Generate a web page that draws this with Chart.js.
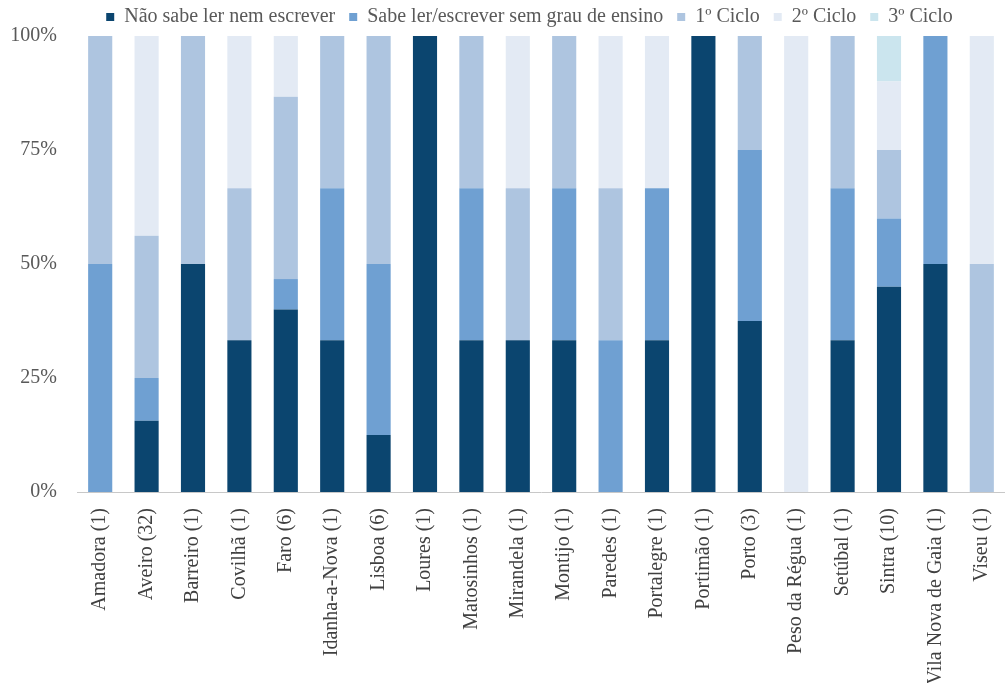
<!DOCTYPE html>
<html>
<head>
<meta charset="utf-8">
<script src="https://cdn.jsdelivr.net/npm/chart.js@4/dist/chart.umd.min.js"></script>
<style>
  html, body { margin: 0; padding: 0; background: #fff; overflow: hidden; }
  #wrap { width: 1005px; height: 683px; }
</style>
</head>
<body>
<div id="wrap"><canvas id="chart"></canvas></div>
<script>
// categories (municipality + count)
const categories = [
  'Amadora (1)', 'Aveiro (32)', 'Barreiro (1)', 'Covilhã (1)', 'Faro (6)',
  'Idanha-a-Nova (1)', 'Lisboa (6)', 'Loures (1)', 'Matosinhos (1)', 'Mirandela (1)',
  'Montijo (1)', 'Paredes (1)', 'Portalegre (1)', 'Portimão (1)', 'Porto (3)',
  'Peso da Régua (1)', 'Setúbal (1)', 'Sintra (10)', 'Vila Nova de Gaia (1)', 'Viseu (1)'
];

// series values (% of each bar)
const naoSabe = [0, 15.6, 50, 33.3, 40, 33.3, 12.5, 100, 33.3, 33.3, 33.3, 0, 33.3, 100, 37.5, 0, 33.3, 45, 50, 0];
const sabeLer = [50, 9.4, 0, 0, 6.7, 33.3, 37.5, 0, 33.3, 0, 33.3, 33.3, 33.3, 0, 37.5, 0, 33.3, 15, 50, 0];
const ciclo1  = [50, 31.2, 50, 33.3, 40, 33.4, 50, 0, 33.4, 33.3, 33.4, 33.3, 0, 0, 25, 0, 33.4, 15, 0, 50];
const ciclo2  = [0, 43.8, 0, 33.4, 13.3, 0, 0, 0, 0, 33.4, 0, 33.4, 33.4, 0, 0, 100, 0, 15, 0, 50];
const ciclo3  = [0, 0, 0, 0, 0, 0, 0, 0, 0, 0, 0, 0, 0, 0, 0, 0, 0, 10, 0, 0];

const seriesNames = ['Não sabe ler nem escrever', 'Sabe ler/escrever sem grau de ensino', '1º Ciclo', '2º Ciclo', '3º Ciclo'];
const yTicks = [0, 25, 50, 75, 100];

const colors = ['#0b456f', '#6fa0d2', '#aec5e0', '#e3eaf4', '#cbe5ee'];
const serif = "'Liberation Serif', 'Times New Roman', serif";

// fixed legend height, and nudge it a bit to the right like the original
const legendPlugin = {
  id: 'legendTweak',
  beforeInit(chart) {
    const origFit = chart.legend.fit;
    chart.legend.fit = function () {
      origFit.bind(chart.legend)();
      this.height = 43;
    };
  },
  afterLayout(chart) {
    chart.legend.left += 25;
    chart.legend.right += 25;
  }
};

const allSeries = [naoSabe, sabeLer, ciclo1, ciclo2, ciclo3];

new Chart(document.getElementById('chart'), {
  type: 'bar',
  data: {
    labels: categories,
    datasets: allSeries.map((vals, i) => ({
      label: seriesNames[i],
      data: vals,
      backgroundColor: colors[i],
      borderWidth: 0,
      barPercentage: 0.52,
      categoryPercentage: 1
    }))
  },
  plugins: [legendPlugin],
  options: {
    responsive: true,
    maintainAspectRatio: false,
    animation: false,
    layout: { padding: { top: -7, left: 0, right: -4, bottom: 0 } },
    plugins: {
      tooltip: { enabled: false },
      legend: {
        position: 'top',
        labels: {
          boxWidth: 8,
          boxHeight: 8,
          padding: 14,
          color: '#595959',
          font: { family: serif, size: 20 }
        }
      }
    },
    scales: {
      x: {
        stacked: true,
        grid: { display: false, drawTicks: false },
        border: { display: true, color: '#c8c8c8', width: 1 },
        ticks: {
          autoSkip: false,
          minRotation: 90,
          maxRotation: 90,
          padding: 16,
          color: '#404040',
          font: { family: serif, size: 20 }
        },
        afterFit(scale) {
          scale.height = 191;
          scale.paddingLeft = 0;
          scale.paddingRight = 0;
        }
      },
      y: {
        stacked: true,
        min: 0,
        max: 100,
        grid: { display: false, drawTicks: false },
        border: { display: false },
        afterBuildTicks(scale) { scale.ticks = yTicks.map(v => ({ value: v })); },
        ticks: {
          padding: 20,
          color: '#595959',
          font: { family: serif, size: 20 },
          callback: v => v + '%'
        },
        afterFit(scale) { scale.width = 77; }
      }
    }
  }
});
</script>
</body>
</html>
